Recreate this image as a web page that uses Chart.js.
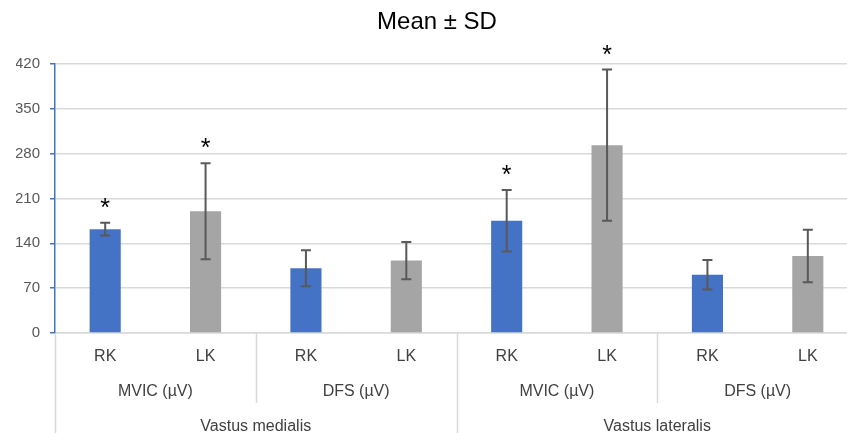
<!DOCTYPE html>
<html lang="en">
<head>
    <meta charset="UTF-8">
    <title>Mean ± SD</title>
    <style type="text/css">
        html, body { margin: 0; padding: 0; overflow: hidden; background: #fff; }
        .chartBox { width: 874px; height: 433px; }
    </style>
</head>
<body>
    <div class="chartBox">
        <canvas id="myChart"></canvas>
    </div>

    <script src="https://cdn.jsdelivr.net/npm/chart.js"></script>
    <script>
    // data block
    const sides = ['RK', 'LK', 'RK', 'LK', 'RK', 'LK', 'RK', 'LK'];
    const measures = ['MVIC (µV)', 'DFS (µV)', 'MVIC (µV)', 'DFS (µV)'];
    const muscles = ['Vastus medialis', 'Vastus lateralis'];
    const means = [162, 190, 101, 113, 175, 293, 91, 120];
    const sds = [10, 75, 28, 29, 48, 118, 23, 41];
    const marked = [true, true, false, false, true, true, false, false];
    const yTicks = [0, 70, 140, 210, 280, 350, 420];

    const font = "'Liberation Sans', Arial, sans-serif";
    const barColors = sides.map(s => s === 'RK' ? '#4472C4' : '#A5A5A5');

    // error bars + asterisks
    const errorBars = {
        id: 'errorBars',
        afterDatasetsDraw(chart) {
            const ctx = chart.ctx;
            const meta = chart.getDatasetMeta(0);
            const y = chart.scales.y;
            ctx.save();
            meta.data.forEach((bar, i) => {
                const top = y.getPixelForValue(means[i] + sds[i]);
                const bot = y.getPixelForValue(means[i] - sds[i]);
                ctx.strokeStyle = '#595959';
                ctx.lineWidth = 2;
                ctx.beginPath();
                ctx.moveTo(bar.x, top); ctx.lineTo(bar.x, bot);
                ctx.moveTo(bar.x - 5, top); ctx.lineTo(bar.x + 5, top);
                ctx.moveTo(bar.x - 5, bot); ctx.lineTo(bar.x + 5, bot);
                ctx.stroke();
                if (marked[i]) {
                    ctx.fillStyle = '#000';
                    ctx.font = '25px ' + font;
                    ctx.textAlign = 'center';
                    ctx.textBaseline = 'alphabetic';
                    ctx.fillText('*', bar.x, top - 7);
                }
            });
            ctx.restore();
        }
    };

    // multi-level category axis
    const groupAxis = {
        id: 'groupAxis',
        afterDraw(chart) {
            const ctx = chart.ctx;
            const x = chart.scales.x;
            const area = chart.chartArea;
            const n = sides.length;
            const bound = i => i === 0 ? area.left : (i === n ? area.right :
                (x.getPixelForValue(i - 1) + x.getPixelForValue(i)) / 2);
            ctx.save();
            ctx.strokeStyle = '#D9D9D9';
            ctx.lineWidth = 1.5;
            for (let i = 0; i <= n; i++) {
                let end = null;
                if (i % 4 === 0) end = chart.height;
                else if (i % 2 === 0) end = area.bottom + 70;
                if (end === null) continue;
                const bx = Math.round(bound(i)) + 0.5;
                ctx.beginPath();
                ctx.moveTo(bx, area.bottom);
                ctx.lineTo(bx, end);
                ctx.stroke();
            }
            ctx.fillStyle = '#404040';
            ctx.font = '16px ' + font;
            ctx.textAlign = 'center';
            ctx.textBaseline = 'middle';
            sides.forEach((s, i) => ctx.fillText(s, x.getPixelForValue(i), area.bottom + 24));
            measures.forEach((m, j) => ctx.fillText(m, (bound(2 * j) + bound(2 * j + 2)) / 2, area.bottom + 59));
            muscles.forEach((m, k) => ctx.fillText(m, (bound(4 * k) + bound(4 * k + 4)) / 2, area.bottom + 94));
            ctx.restore();
        }
    };

    // config block
    const config = {
        type: 'bar',
        data: {
            labels: sides,
            datasets: [{
                data: means,
                backgroundColor: barColors,
                categoryPercentage: 1,
                barPercentage: 0.31
            }]
        },
        options: {
            responsive: true,
            maintainAspectRatio: false,
            animation: false,
            layout: { padding: { left: 16, right: 16, bottom: 92, top: 0 } },
            plugins: {
                legend: { display: false },
                tooltip: { enabled: false },
                title: {
                    display: true,
                    text: 'Mean ± SD',
                    color: '#000',
                    font: { family: font, size: 24, weight: 'normal' },
                    padding: { top: 8, bottom: 27 }
                }
            },
            scales: {
                x: {
                    ticks: { display: false },
                    grid: { display: false },
                    border: { display: true, color: '#D9D9D9', width: 1.5 }
                },
                y: {
                    min: 0,
                    max: 420,
                    afterFit: scale => { scale.width = 39; },
                    afterBuildTicks: scale => { scale.ticks = yTicks.map(v => ({ value: v })); },
                    ticks: {
                        color: '#595959',
                        padding: 10,
                        font: { family: font, size: 15 }
                    },
                    grid: { color: '#D9D9D9', lineWidth: 1.5, tickColor: '#4472C4', tickLength: 5 },
                    border: { color: '#4472C4', width: 1.5 }
                }
            }
        },
        plugins: [errorBars, groupAxis]
    };

    // render init block
    const myChart = new Chart(document.getElementById('myChart'), config);
    </script>
</body>
</html>
